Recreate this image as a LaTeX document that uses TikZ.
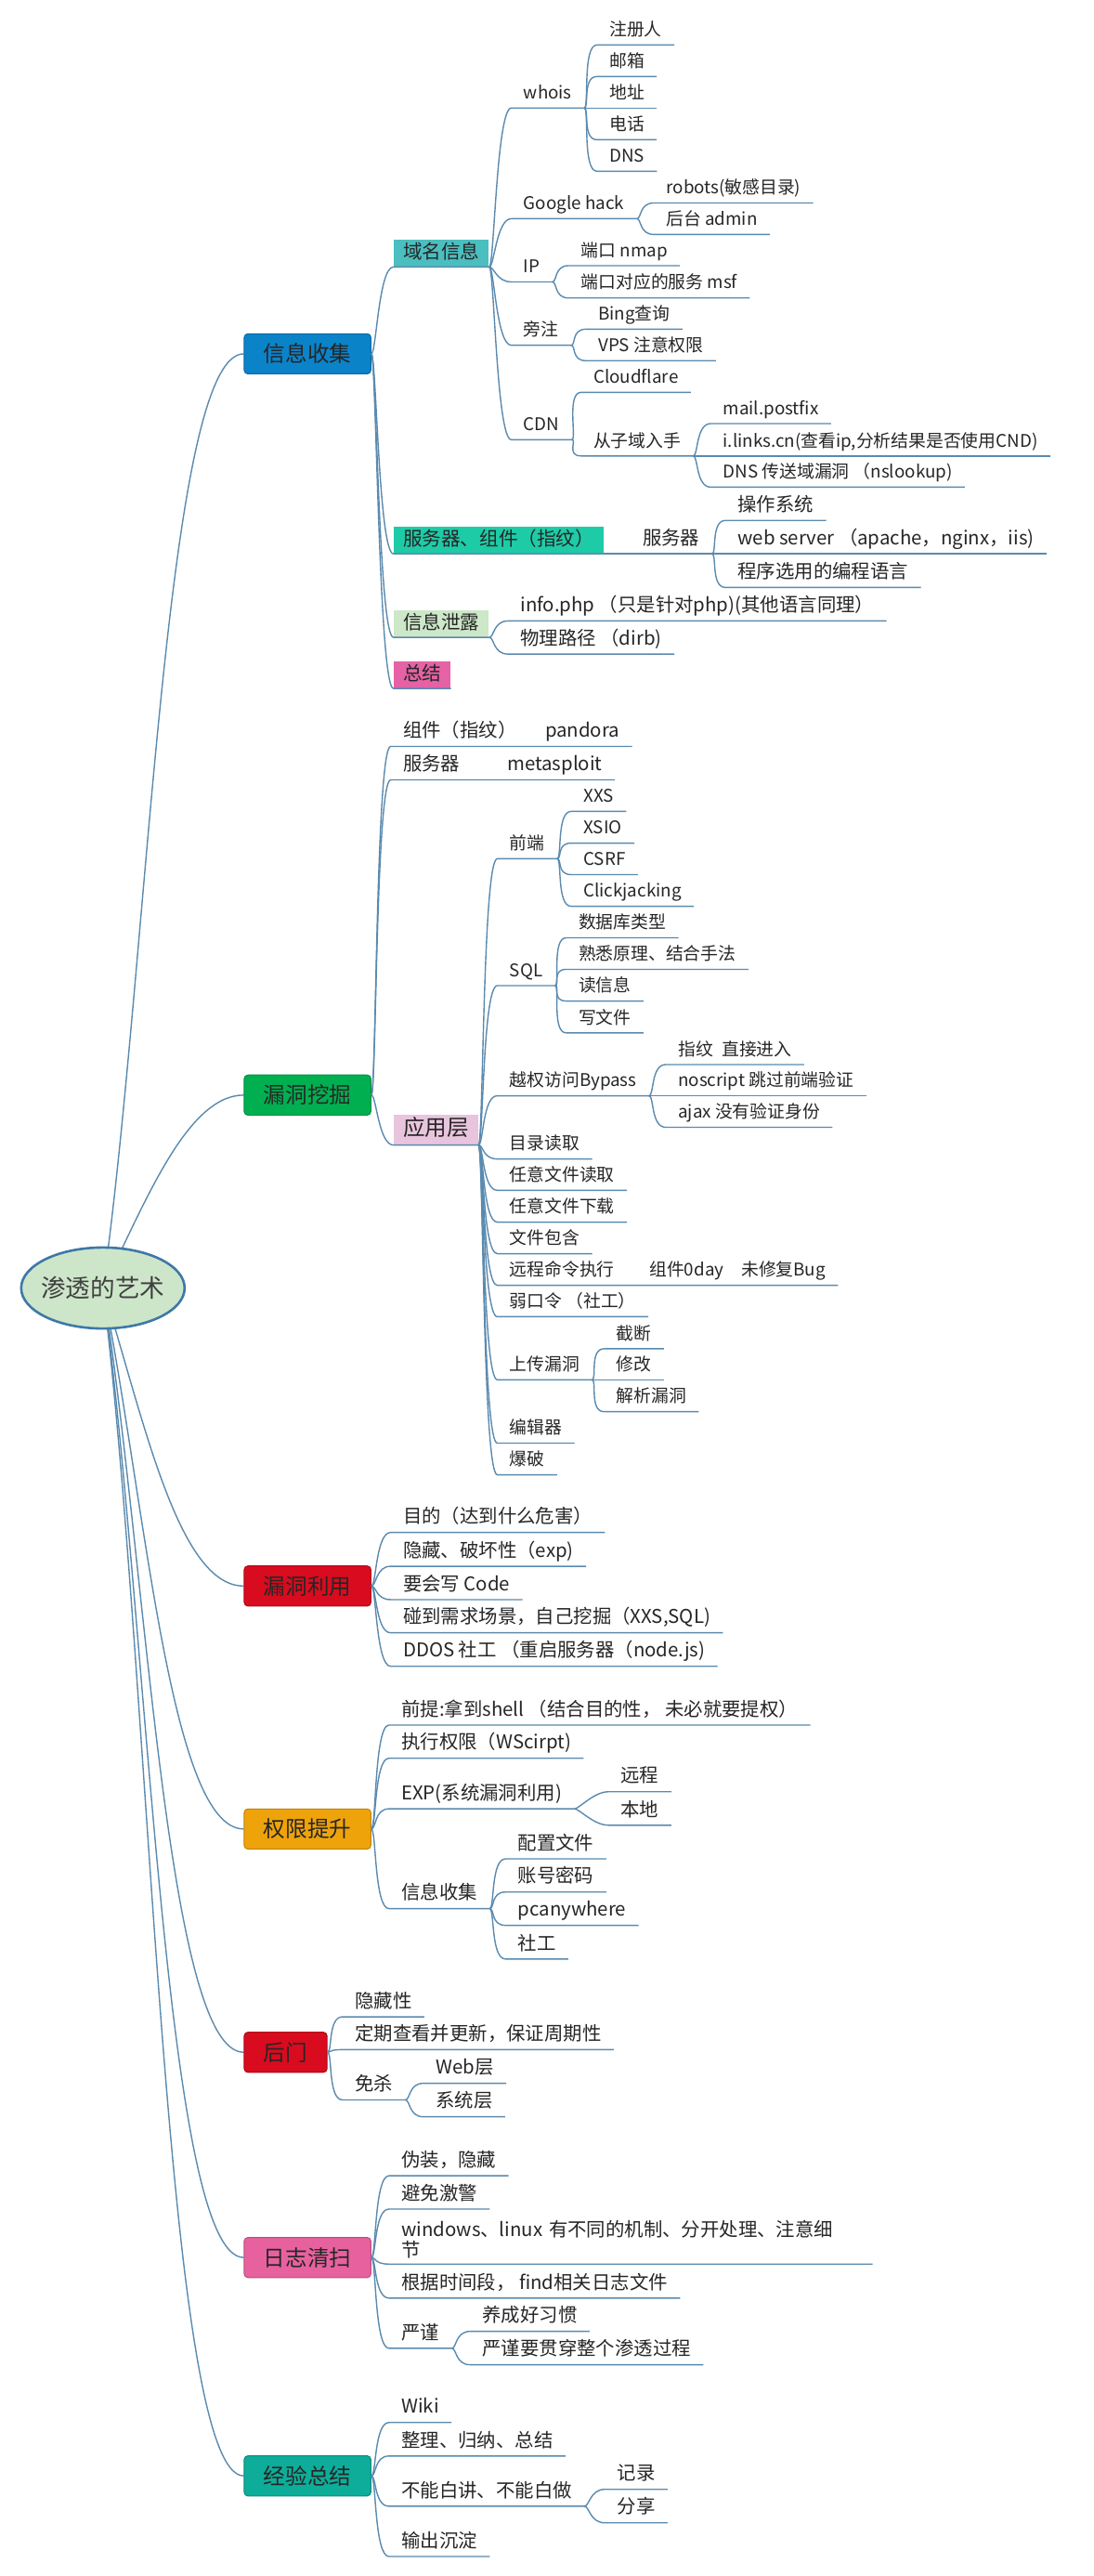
\documentclass[tikz,border=0pt]{standalone}
\usepackage{xcolor}
\usepackage{fontspec}
\setmainfont{Noto Sans CJK SC}
\usepackage{tikz}
\usetikzlibrary{shapes.geometric, backgrounds}

\definecolor{linkc}{HTML}{5A8AAF}
\definecolor{rootline}{HTML}{3E78A8}
\definecolor{rootfill}{HTML}{CDE6C9}
\definecolor{infoc}{HTML}{0B83C9}
\definecolor{digc}{HTML}{00B050}
\definecolor{usec}{HTML}{D90B1E}
\definecolor{privc}{HTML}{EFA30B}
\definecolor{doorc}{HTML}{D90B1E}
\definecolor{cleanc}{HTML}{E8619F}
\definecolor{sumc}{HTML}{0DAD9A}
\definecolor{domc}{HTML}{4BBEBF}
\definecolor{srvc}{HTML}{1ECBA7}
\definecolor{leakc}{HTML}{CDE7C9}
\definecolor{zjc}{HTML}{E462A5}
\definecolor{appc}{HTML}{E8C5DD}

\begin{document}
\begin{tikzpicture}[
        x=0.8836pt, y=-0.8836pt,
        link/.style={draw=linkc, line width=0.7pt},
        tree/.style={to path={.. controls +(3,0) and +(-9,0) .. (\tikztotarget.south west) -- (\tikztotarget.south east)}},
        rootnode/.style={
            ellipse, draw=rootline, line width=1.3pt, fill=rootfill,
            minimum width=88pt, minimum height=43.6pt, inner sep=0pt,
            text=black!75, font=\fontsize{13.3}{15}\selectfont
        },
        mainbox/.style={
            rectangle, rounded corners=2pt, anchor=west,
            minimum height=21.6pt, inner xsep=10.5pt,
            fill=#1, draw=#1!80!black, line width=0.5pt,
            text=black!85, font=\fontsize{11.8}{13}\selectfont
        },
        subbox/.style={
            rectangle, anchor=south west, minimum height=14.5pt,
            inner xsep=5pt, inner ysep=1pt, text height=0.8em, text depth=0.2em,
            fill=#1, text=black!85, font=\fontsize{10.3}{12}\selectfont
        },
        topic/.style={
            anchor=south west, inner xsep=6.5pt, inner ysep=2.2pt,
            text depth=0.25em, text=black!85, font=\fontsize{10.2}{11}\selectfont
        },
        subtopic/.style={topic, font=\fontsize{9.4}{11}\selectfont},
    ]

    \useasboundingbox (0,0) rectangle (666,1569);

    \node (root)  [rootnode] at (62.7,784.5) {\makebox[0pt]{渗透的艺术}};

    \node (info)  [mainbox=infoc]  at (148.5,215.5) {信息收集};
    \node (dig)   [mainbox=digc]   at (148.5,667)   {漏洞挖掘};
    \node (use)   [mainbox=usec]   at (148.5,966)   {漏洞利用};
    \node (priv)  [mainbox=privc]  at (148.5,1114)  {权限提升};
    \node (door)  [mainbox=doorc]  at (148.5,1250)  {后门};
    \node (clean) [mainbox=cleanc] at (148.5,1375)  {日志清扫};
    \node (sum)   [mainbox=sumc]   at (148.5,1508)  {经验总结};

    \node (dom)    [subbox=domc]  at (239.7,162.6) {域名信息};
    \node (srvbox) [subbox=srvc]  at (239.7,337.3) {服务器、组件（指纹）};
    \node (leak)   [subbox=leakc] at (239.7,388.2) {信息泄露};
    \node (zj)     [subbox=zjc]   at (239.7,419.3) {总结};

    \node (whois) [subtopic] at (311.5,65.8)  {whois};
    \node (ghack) [subtopic] at (311.5,133.2) {Google hack};
    \node (ip)    [subtopic] at (311.5,171.7) {IP};
    \node (pz)    [subtopic] at (311.5,210.3) {旁注};
    \node (cdn)   [subtopic] at (311.5,267.8) {CDN};

    \node (zcr)   [subtopic] at (363.7,27.4)  {注册人};
    \node (yx)    [subtopic] at (363.7,46.6)  {邮箱};
    \node (dz)    [subtopic] at (363.7,65.8)  {地址};
    \node (dh)    [subtopic] at (363.7,85.1)  {电话};
    \node (wdns)  [subtopic] at (363.7,104.3) {DNS};
    \node (robot) [subtopic] at (398.4,123.6) {robots(敏感目录)};
    \node (admin) [subtopic] at (398.4,142.8) {后台 admin};
    \node (nmap)  [subtopic] at (346.5,161.8) {端口 nmap};
    \node (msfp)  [subtopic] at (346.5,181.5) {端口对应的服务 msf};
    \node (bing)  [subtopic] at (357,200.5)   {Bing查询};
    \node (vps)   [subtopic] at (357,219.7)   {VPS 注意权限};
    \node (cf)    [subtopic] at (354,239)     {Cloudflare};
    \node (subd)  [subtopic] at (354,277.7)   {从子域入手};
    \node (mail)  [subtopic] at (433,258)     {mail.postfix};
    \node (links) [subtopic] at (433,277.7)   {i.links.cn(查看ip,分析结果是否使用CND)};
    \node (axfr)  [subtopic] at (433,296.7)   {DNS 传送域漏洞 （nslookup)};

    \node (srv)   [topic] at (384,337.3) {服务器};
    \node (os)    [topic] at (442,317)   {操作系统};
    \node (web)   [topic] at (442,337.3) {web server （apache，nginx，iis)};
    \node (lang)  [topic] at (442,357.8) {程序选用的编程语言};

    \node (phpi)  [topic] at (309.5,378.2) {info.php （只是针对php)(其他语言同理）};
    \node (dirb)  [topic] at (309.5,398.4) {物理路径 （dirb)};

    \node (pand)  [topic] at (238,454.6) {组件（指纹）\hspace{1.5em}pandora};
    \node (meta)  [topic] at (238,475)   {服务器\hspace{2.5em}metasploit};
    \node (app)   [subbox=appc, minimum height=16pt, font=\fontsize{11.8}{13}\selectfont] at (239.7,697.4) {应用层};

    \node (fe)     [subtopic] at (303,523)   {前端};
    \node (sql)    [subtopic] at (303,600.3) {SQL};
    \node (bypass) [subtopic] at (303,667.4) {越权访问Bypass};
    \node (dirr)   [subtopic] at (303,705.9) {目录读取};
    \node (fread)  [subtopic] at (303,725)   {任意文件读取};
    \node (fdown)  [subtopic] at (303,744.4) {任意文件下载};
    \node (finc)   [subtopic] at (303,763.6) {文件包含};
    \node (rce)    [subtopic] at (303,782.9) {远程命令执行\hspace{2em}组件0day\hspace{1em}未修复Bug};
    \node (weak)   [subtopic] at (303,802)   {弱口令 （社工）};
    \node (upl)    [subtopic] at (303,840.4) {上传漏洞};
    \node (edit)   [subtopic] at (303,879)   {编辑器};
    \node (brute)  [subtopic] at (303,898.3) {爆破};

    \node (xxs)   [subtopic] at (348,494.2) {XXS};
    \node (xsio)  [subtopic] at (348,513.5) {XSIO};
    \node (csrf)  [subtopic] at (348,532.7) {CSRF};
    \node (click) [subtopic] at (348,552)   {Clickjacking};
    \node (dbt)   [subtopic] at (345,571.2) {数据库类型};
    \node (prin)  [subtopic] at (345,590.4) {熟悉原理、结合手法};
    \node (rinfo) [subtopic] at (345,609.7) {读信息};
    \node (wfile) [subtopic] at (345,629.1) {写文件};
    \node (fp)    [subtopic] at (405.6,648.4) {指纹\enspace 直接进入};
    \node (nos)   [subtopic] at (405.6,667.4) {noscript 跳过前端验证};
    \node (ajax)  [subtopic] at (405.6,686.6) {ajax 没有验证身份};
    \node (cut)   [subtopic] at (368,821.5) {截断};
    \node (mod)   [subtopic] at (368,840.4) {修改};
    \node (parse) [subtopic] at (368,859.8) {解析漏洞};

    \node (goal)  [topic] at (238,933.4)  {目的（达到什么危害）};
    \node (hidx)  [topic] at (238,954)    {隐藏、破坏性（exp)};
    \node (code)  [topic] at (238,974.3)  {要会写 Code};
    \node (need)  [topic] at (238,994.5)  {碰到需求场景，自己挖掘（XXS,SQL)};
    \node (ddos)  [topic] at (238,1014.9) {DDOS 社工 （重启服务器（node.js)};

    \node (shell) [topic] at (237,1050.7) {前提:拿到shell （结合目的性， 未必就要提权）};
    \node (wsc)   [topic] at (237,1070.9) {执行权限（WScirpt)};
    \node (expl)  [topic] at (237,1101.7) {EXP(系统漏洞利用)};
    \node (pinfo) [topic] at (237,1162.5) {信息收集};
    \node (remote)[topic] at (370.7,1091.3) {远程};
    \node (local) [topic] at (370.7,1111.7) {本地};
    \node (conf)  [topic] at (308,1132.2) {配置文件};
    \node (acct)  [topic] at (308,1152.4) {账号密码};
    \node (pca)   [topic] at (308,1172.7) {pcanywhere};
    \node (soc)   [topic] at (308,1193.2) {社工};

    \node (hide)  [topic] at (208.7,1228.4) {隐藏性};
    \node (upd)   [topic] at (208.7,1248.4) {定期查看并更新，保证周期性};
    \node (av)    [topic] at (208.7,1279)   {免杀};
    \node (weblr) [topic] at (258,1268.9)   {Web层};
    \node (syslr) [topic] at (258,1289.3)   {系统层};

    \node (mask)  [topic] at (237,1325.2) {伪装，隐藏};
    \node (alarm) [topic] at (237,1345.5) {避免激警};
    \node (winl)  [topic, text depth=, inner ysep=3pt, align=left, text width=247pt] at (237,1379) {windows、linux 有不同的机制、分开处理、注意细\\节};
    \node (find)  [topic] at (237,1399.7) {根据时间段， find相关日志文件};
    \node (strict)[topic] at (237,1430.3) {严谨};
    \node (habit) [topic] at (286.4,1420) {养成好习惯};
    \node (whole) [topic] at (286.4,1440.3) {严谨要贯穿整个渗透过程};

    \node (wiki)  [topic] at (237,1475.5) {Wiki};
    \node (sort)  [topic] at (237,1495.9) {整理、归纳、总结};
    \node (nowh)  [topic] at (237,1526.5) {不能白讲、不能白做};
    \node (outp)  [topic] at (237,1557.1) {输出沉淀};
    \node (rec)   [topic] at (368.5,1516.2) {记录};
    \node (share) [topic] at (368.5,1536.6) {分享};

    \begin{pgfonlayer}{background}
        \fill [white] (0,0) rectangle (666,1569);
        \draw [link] (root.center) .. controls +(28,-200) and +(-48,0) .. (info.west);
        \draw [link] (root.center) .. controls +(25,-50) and +(-35,0) .. (dig.west);
        \draw [link] (root.center) .. controls +(25,80) and +(-40,0) .. (use.west);
        \draw [link] (root.center) .. controls +(26,130) and +(-45,0) .. (priv.west);
        \draw [link] (root.center) .. controls +(27,170) and +(-47,0) .. (door.west);
        \draw [link] (root.center) .. controls +(28,210) and +(-48,0) .. (clean.west);
        \draw [link] (root.center) .. controls +(30,250) and +(-48,0) .. (sum.west);
    \end{pgfonlayer}

    \foreach \k in {dom,srvbox,leak,zj}
        \draw [link] (info.east) to[tree] (\k);
    \foreach \k in {whois,ghack,ip,pz,cdn}
        \draw [link] (dom.south east) to[tree] (\k);
    \foreach \k in {zcr,yx,dz,dh,wdns}
        \draw [link] (whois.south east) to[tree] (\k);
    \foreach \k in {robot,admin}
        \draw [link] (ghack.south east) to[tree] (\k);
    \foreach \k in {nmap,msfp}
        \draw [link] (ip.south east) to[tree] (\k);
    \foreach \k in {bing,vps}
        \draw [link] (pz.south east) to[tree] (\k);
    \foreach \k in {cf,subd}
        \draw [link] (cdn.south east) to[tree] (\k);
    \foreach \k in {mail,links,axfr}
        \draw [link] (subd.south east) to[tree] (\k);
    \draw [link] (srvbox.south east) to[tree] (srv);
    \foreach \k in {os,web,lang}
        \draw [link] (srv.south east) to[tree] (\k);
    \foreach \k in {phpi,dirb}
        \draw [link] (leak.south east) to[tree] (\k);

    \foreach \k in {pand,meta,app}
        \draw [link] (dig.east) to[tree] (\k);
    \foreach \k in {fe,sql,bypass,dirr,fread,fdown,finc,rce,weak,upl,edit,brute}
        \draw [link] (app.south east) to[tree] (\k);
    \foreach \k in {xxs,xsio,csrf,click}
        \draw [link] (fe.south east) to[tree] (\k);
    \foreach \k in {dbt,prin,rinfo,wfile}
        \draw [link] (sql.south east) to[tree] (\k);
    \foreach \k in {fp,nos,ajax}
        \draw [link] (bypass.south east) to[tree] (\k);
    \foreach \k in {cut,mod,parse}
        \draw [link] (upl.south east) to[tree] (\k);

    \foreach \k in {goal,hidx,code,need,ddos}
        \draw [link] (use.east) to[tree] (\k);

    \foreach \k in {shell,wsc,expl,pinfo}
        \draw [link] (priv.east) to[tree] (\k);
    \foreach \k in {remote,local}
        \draw [link] (expl.south east) to[tree] (\k);
    \foreach \k in {conf,acct,pca,soc}
        \draw [link] (pinfo.south east) to[tree] (\k);

    \foreach \k in {hide,upd,av}
        \draw [link] (door.east) to[tree] (\k);
    \foreach \k in {weblr,syslr}
        \draw [link] (av.south east) to[tree] (\k);

    \foreach \k in {mask,alarm,winl,find,strict}
        \draw [link] (clean.east) to[tree] (\k);
    \foreach \k in {habit,whole}
        \draw [link] (strict.south east) to[tree] (\k);

    \foreach \k in {wiki,sort,nowh,outp}
        \draw [link] (sum.east) to[tree] (\k);
    \foreach \k in {rec,share}
        \draw [link] (nowh.south east) to[tree] (\k);

\end{tikzpicture}
\end{document}
